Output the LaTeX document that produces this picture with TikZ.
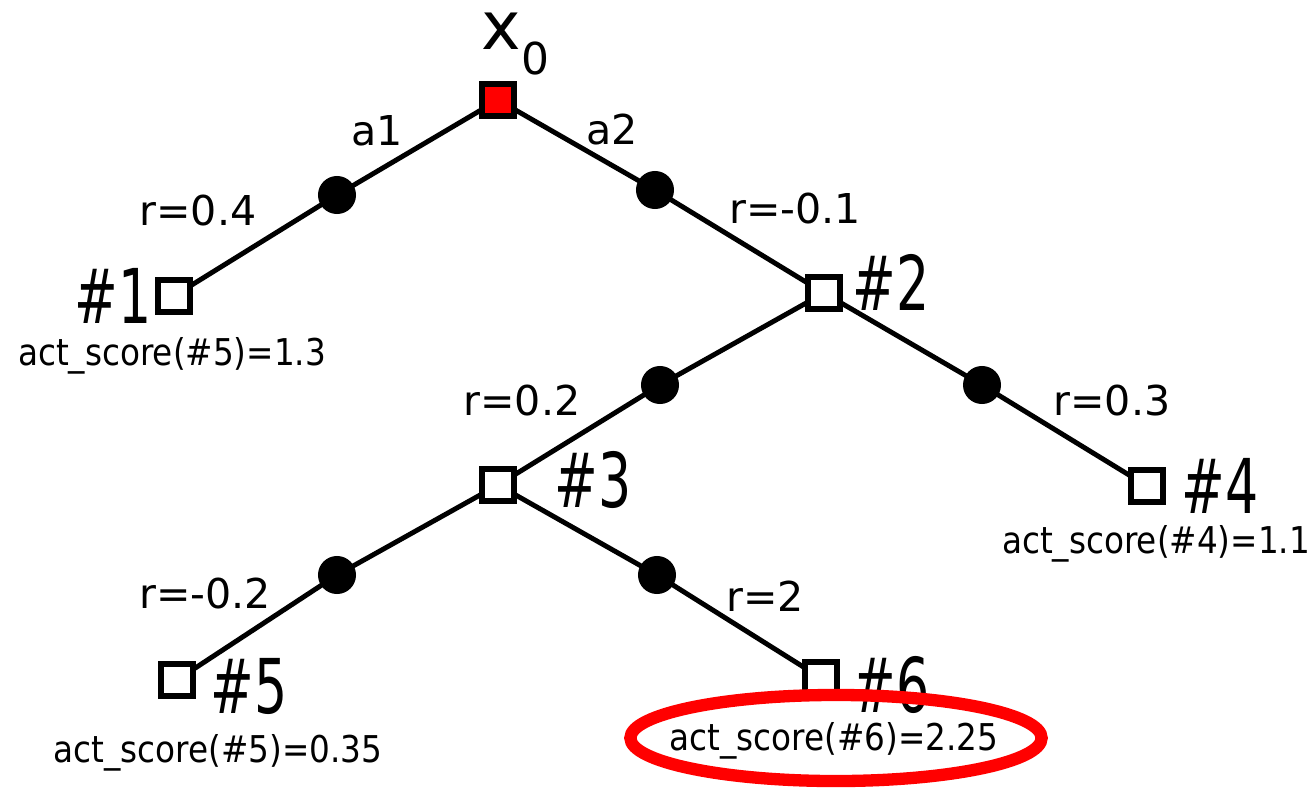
\documentclass[tikz,border=0pt]{standalone}
\usepackage{fontspec}
\setmainfont{DejaVu Sans}
\newfontfamily\condfont{DejaVu Sans}[FakeStretch=0.885]
\newfontfamily\bigfont{DejaVu Sans}[FakeStretch=0.69]
\usetikzlibrary{shapes.geometric}
\begin{document}
\begin{tikzpicture}[x=0.01cm,y=-0.01cm,
  statebox/.style={draw=black,fill=white,line width=1.7pt,minimum size=0.325cm,inner sep=0pt,shape=rectangle},
  rootbox/.style={statebox,fill=red},
  chance/.style={circle,fill=black,minimum size=0.38cm,inner sep=0pt},
  edge/.style={line width=1.4pt,black},
  lbl/.style={font=\fontsize{11.7pt}{14pt}\selectfont,inner sep=0pt,anchor=base},
  score/.style={font=\condfont\fontsize{10.5pt}{12pt}\selectfont,inner sep=0pt,anchor=base},
  big/.style={font=\bigfont\fontsize{21.5pt}{25pt}\selectfont,inner sep=0pt,anchor=base}]
\useasboundingbox (0,0) rectangle (1315,797);
% positions
\coordinate (p0) at (498,100);
\coordinate (pc1) at (337,195);
\coordinate (pc2) at (655,190);
\coordinate (p1) at (174,296);
\coordinate (p2) at (824,293);
\coordinate (pc3) at (660,385);
\coordinate (pc4) at (982,385);
\coordinate (p3) at (498,485);
\coordinate (p4) at (1147,486);
\coordinate (pc5) at (337,575);
\coordinate (pc6) at (657,575);
\coordinate (p5) at (177,680);
\coordinate (p6) at (821,678);
% edges
\draw[edge] (p0) -- (pc1) -- (p1);
\draw[edge] (p0) -- (pc2) -- (p2);
\draw[edge] (p2) -- (pc3) -- (p3);
\draw[edge] (p2) -- (pc4) -- (p4);
\draw[edge] (p3) -- (pc5) -- (p5);
\draw[edge] (p3) -- (pc6) -- (p6);
% state nodes
\node[rootbox] (x0) at (p0) {};
\node[statebox] (n1) at (p1) {};
\node[statebox] (n2) at (p2) {};
\node[statebox] (n3) at (p3) {};
\node[statebox] (n4) at (p4) {};
\node[statebox] (n5) at (p5) {};
\node[statebox] (n6) at (p6) {};
\node[chance] (c1) at (pc1) {};
\node[chance] (c2) at (pc2) {};
\node[chance] (c3) at (pc3) {};
\node[chance] (c4) at (pc4) {};
\node[chance] (c5) at (pc5) {};
\node[chance] (c6) at (pc6) {};
% root label
\node[inner sep=0pt,anchor=base west,font=\fontsize{19pt}{22pt}\selectfont] (tx0) at (481,50) {x\raisebox{-0.36em}{\fontsize{12.5pt}{14pt}\selectfont 0}};
% action and reward labels
\node[lbl] (ta1) at (377,145) {a1};
\node[lbl] (ta2) at (612,144) {a2};
\node[lbl] (tr1) at (198,225) {r=0.4};
\node[lbl] (tr2) at (795,223) {r=-0.1};
\node[lbl] (tr3) at (522,415) {r=0.2};
\node[lbl] (tr4) at (1112,415) {r=0.3};
\node[lbl] (tr5) at (205,608) {r=-0.2};
\node[lbl] (tr6) at (765,611) {r=2};
% node names
\node[big] (t1) at (113,323) {\#1};
\node[big] (t2) at (891,310) {\#2};
\node[big] (t3) at (593,507) {\#3};
\node[big] (t4) at (1220,513) {\#4};
\node[big] (t5) at (249,713) {\#5};
\node[big] (t6) at (891,712) {\#6};
% scores
\node[score] (s1) at (172,365) {act\_score(\#5)=1.3};
\node[score] (s4) at (1156,553) {act\_score(\#4)=1.1};
\node[score] (s5) at (218,762) {act\_score(\#5)=0.35};
\node[score] (s6) at (834,750) {act\_score(\#6)=2.25};
\node[ellipse,draw=red,line width=3.5pt,minimum width=4.11cm,minimum height=0.86cm,inner sep=0pt] (ring) at (836,738) {};
\end{tikzpicture}
\end{document}
